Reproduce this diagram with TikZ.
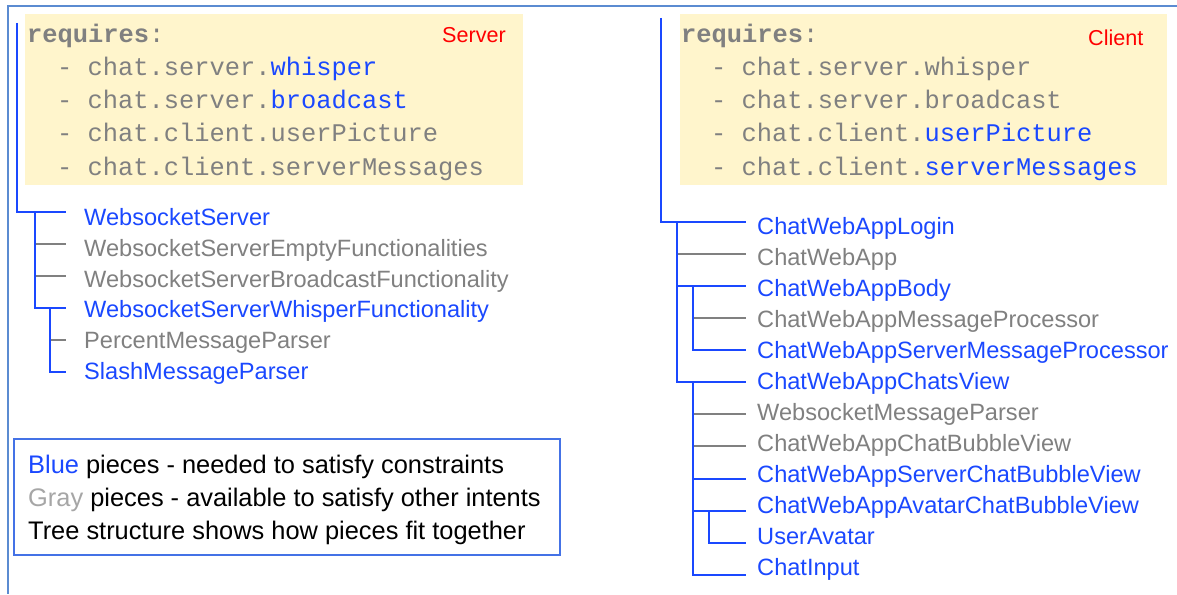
\documentclass[tikz,border=0pt]{standalone}
\usepackage{fontspec}
\setmainfont{Liberation Sans}
\setmonofont{Liberation Mono}
\definecolor{pieceblue}{RGB}{26,72,255}
\definecolor{piecegray}{RGB}{128,128,128}
\definecolor{legendgray}{RGB}{166,166,166}
\definecolor{framecol}{RGB}{91,139,209}
\definecolor{reqfill}{RGB}{255,245,204}
\definecolor{reqtext}{RGB}{128,128,128}
\definecolor{legendframe}{RGB}{68,114,230}
\newcommand{\bl}[1]{\textcolor{pieceblue}{#1}}
\begin{document}
\begin{tikzpicture}[x=1pt,y=-1pt,
  piece/.style={anchor=base west, inner sep=0pt, font=\fontsize{23.6}{28}\selectfont},
  need/.style={piece, text=pieceblue},
  spare/.style={piece, text=piecegray},
  req/.style={anchor=base west, inner sep=0pt, text=reqtext,
    font=\ttfamily\fontsize{25.4}{30}\selectfont},
  side/.style={anchor=base west, inner sep=0pt, text=red,
    font=\fontsize{21.6}{26}\selectfont},
  legendtext/.style={anchor=base west, inner sep=0pt,
    font=\fontsize{25.4}{30}\selectfont},
  bluelink/.style={draw=pieceblue, line width=2pt},
  graylink/.style={draw=piecegray, line width=2pt},
]
\useasboundingbox (0,0) rectangle (1177,594);

% outer frame (top and left edges)
\draw[framecol, line width=2pt] (1177,6) -| (8,594);

% requirement panels
\fill[reqfill] (25,14) rectangle (523,185);
\fill[reqfill] (680,14) rectangle (1167,185);

% server requirements
\node[req] (sreq0) at (27,43) {{\bfseries requires}:};
\node[req] (sreq1) at (57,75.5) {- chat.server.\bl{whisper}};
\node[req] (sreq2) at (57,108.5) {- chat.server.\bl{broadcast}};
\node[req] (sreq3) at (57,141.5) {- chat.client.userPicture};
\node[req] (sreq4) at (57,175) {- chat.client.serverMessages};
\node[side] (srvlabel) at (442,43) {Server};

% client requirements
\node[req] (creq0) at (681,43) {{\bfseries requires}:};
\node[req] (creq1) at (711,75.5) {- chat.server.whisper};
\node[req] (creq2) at (711,108.5) {- chat.server.broadcast};
\node[req] (creq3) at (711,141.5) {- chat.client.\bl{userPicture}};
\node[req] (creq4) at (711,175) {- chat.client.\bl{serverMessages}};
\node[side] (clilabel) at (1088,46) {Client};

% ---------- server tree ----------
\node[need]  (ws)      at (84,225.2) {WebsocketServer};
\node[spare] (wsempty) at (84,256.1) {WebsocketServerEmptyFunctionalities};
\node[spare] (wsbroad) at (84,287.0) {WebsocketServerBroadcastFunctionality};
\node[need]  (wswhis)  at (84,317.9) {WebsocketServerWhisperFunctionality};
\node[spare] (percent) at (84,348.8) {PercentMessageParser};
\node[need]  (slash)   at (84,379.7) {SlashMessageParser};

\coordinate (sroot) at (17,23);
\coordinate (k1) at (35,212);
\coordinate (k2) at (50,308);
\coordinate (t-ws)      at (66,212);
\coordinate (t-wsempty) at (66,244);
\coordinate (t-wsbroad) at (66,276);
\coordinate (t-wswhis)  at (66,308);
\coordinate (t-percent) at (66,340);
\coordinate (t-slash)   at (66,372);

\draw[graylink] (k1 |- t-wsempty) -- (t-wsempty);
\draw[graylink] (k1 |- t-wsbroad) -- (t-wsbroad);
\draw[graylink] (k2 |- t-percent) -- (t-percent);
\draw[bluelink] (sroot) |- (t-ws);
\draw[bluelink] (k1) |- (t-wswhis);
\draw[bluelink] (k2) |- (t-slash);

% ---------- client tree ----------
\node[need]  (login)   at (757,234.5) {ChatWebAppLogin};
\node[spare] (app)     at (757,265.5) {ChatWebApp};
\node[need]  (body)    at (757,296.4) {ChatWebAppBody};
\node[spare] (mp)      at (757,327.4) {ChatWebAppMessageProcessor};
\node[need]  (smp)     at (757,358.4) {ChatWebAppServerMessageProcessor};
\node[need]  (chats)   at (757,389.4) {ChatWebAppChatsView};
\node[spare] (wmp)     at (757,420.3) {WebsocketMessageParser};
\node[spare] (cbv)     at (757,451.3) {ChatWebAppChatBubbleView};
\node[need]  (scbv)    at (757,482.3) {ChatWebAppServerChatBubbleView};
\node[need]  (acbv)    at (757,513.2) {ChatWebAppAvatarChatBubbleView};
\node[need]  (avatar)  at (757,544.2) {UserAvatar};
\node[need]  (input)   at (757,575.2) {ChatInput};

\coordinate (croot) at (661,18);
\coordinate (m1) at (677,221.7);
\coordinate (m2) at (693,285.9);
\coordinate (m3) at (693,382.2);
\coordinate (m4) at (709,510.6);
\coordinate (t-login)  at (746,221.7);
\coordinate (t-app)    at (746,253.8);
\coordinate (t-body)   at (746,285.9);
\coordinate (t-mp)     at (746,318.0);
\coordinate (t-smp)    at (746,350.1);
\coordinate (t-chats)  at (746,382.2);
\coordinate (t-wmp)    at (746,414.3);
\coordinate (t-cbv)    at (746,446.4);
\coordinate (t-scbv)   at (746,478.5);
\coordinate (t-acbv)   at (746,510.6);
\coordinate (t-avatar) at (746,542.7);
\coordinate (t-input)  at (746,574.8);

\draw[graylink] (m1 |- t-app) -- (t-app);
\draw[graylink] (m2 |- t-mp) -- (t-mp);
\draw[graylink] (m3 |- t-wmp) -- (t-wmp);
\draw[graylink] (m3 |- t-cbv) -- (t-cbv);
\draw[bluelink] (croot) |- (t-login);
\draw[bluelink] (m1) |- (t-chats);
\draw[bluelink] (m1 |- t-body) -- (t-body);
\draw[bluelink] (m2) |- (t-smp);
\draw[bluelink] (m3) |- (t-input);
\draw[bluelink] (m3 |- t-scbv) -- (t-scbv);
\draw[bluelink] (m3 |- t-acbv) -- (t-acbv);
\draw[bluelink] (m4) |- (t-avatar);

% ---------- legend ----------
\draw[legendframe, line width=1.2pt] (14,439) rectangle (560,555);
\node[legendtext] (leg1) at (28,473) {\textcolor{pieceblue}{Blue} pieces - needed to satisfy constraints};
\node[legendtext] (leg2) at (28,506) {\textcolor{legendgray}{Gray} pieces - available to satisfy other intents};
\node[legendtext] (leg3) at (28,539) {Tree structure shows how pieces fit together};
\end{tikzpicture}
\end{document}
